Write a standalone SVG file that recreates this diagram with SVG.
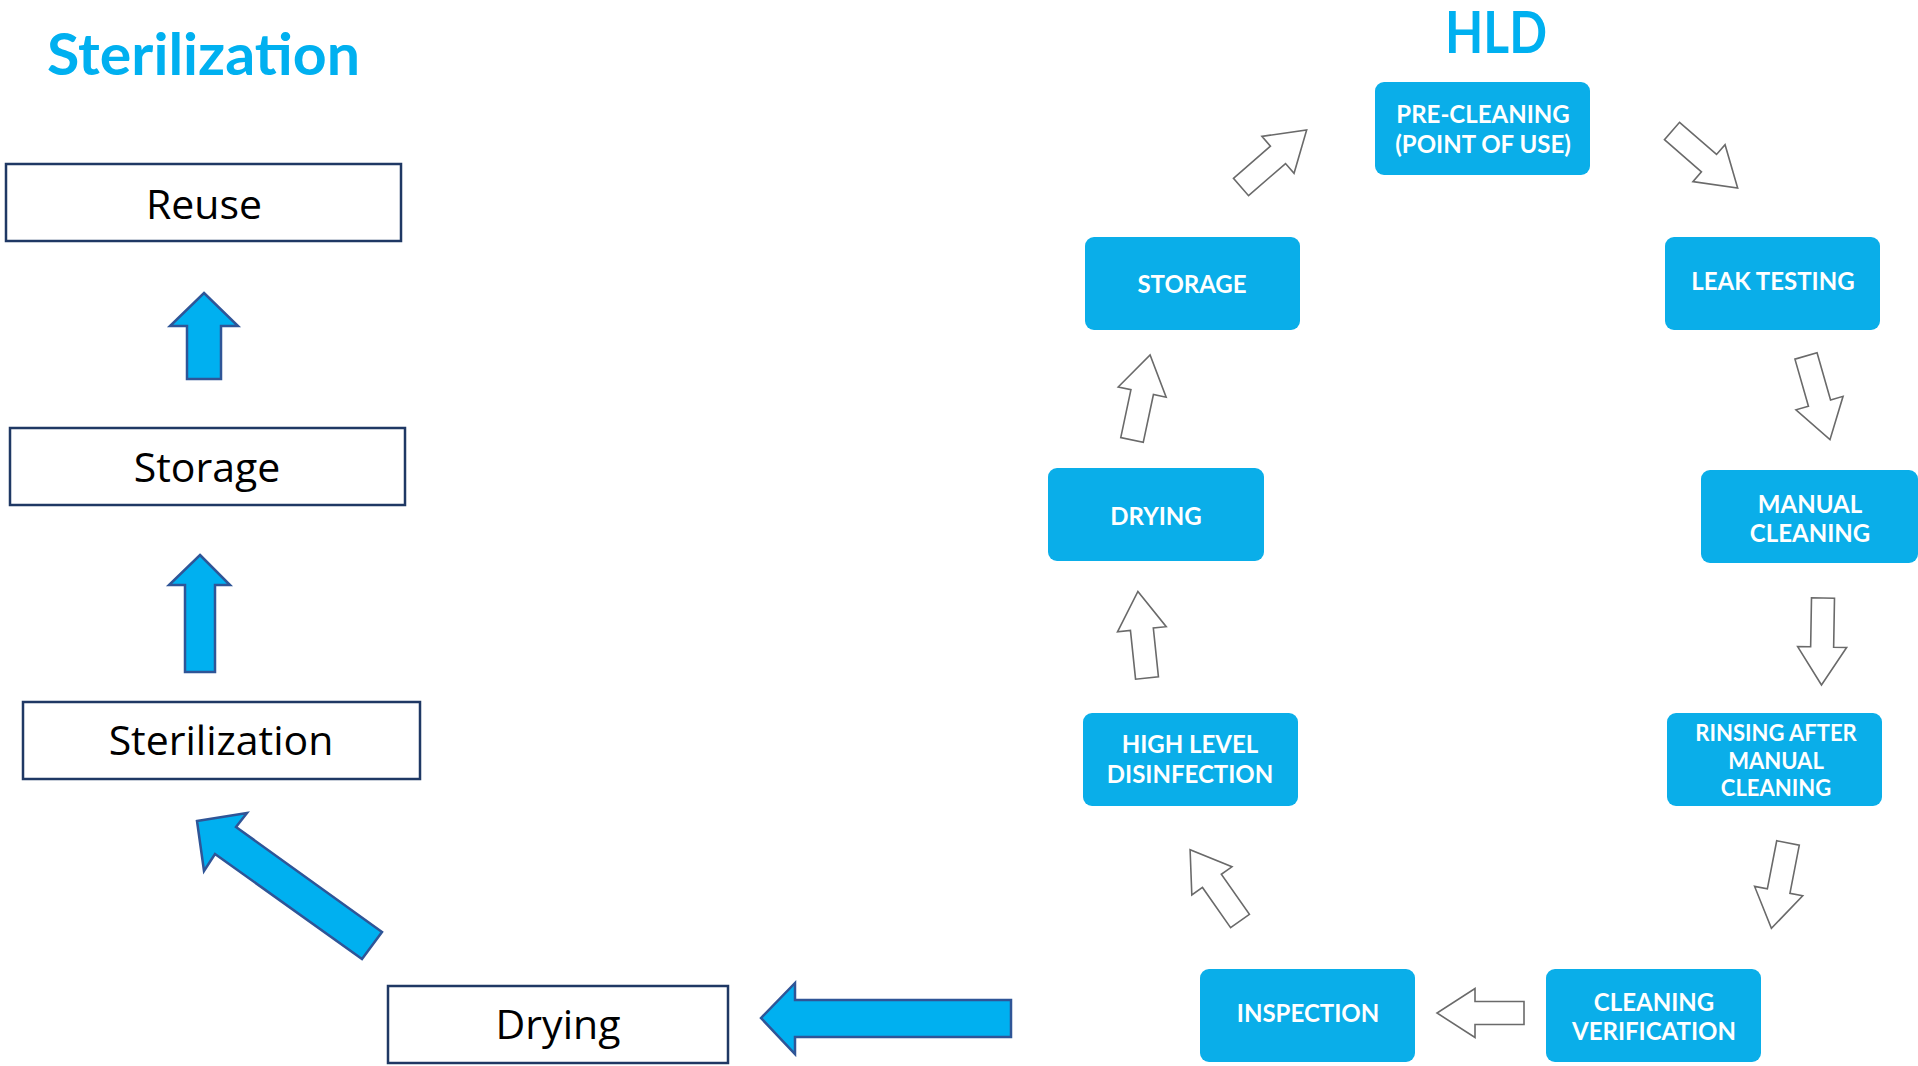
<svg xmlns="http://www.w3.org/2000/svg" xmlns:xlink="http://www.w3.org/1999/xlink" width="1918" height="1066" viewBox="0 0 1918 1066">
<style>
.title{font-family:Lato,"Open Sans","Liberation Sans",sans-serif;font-weight:700;font-size:57px;fill:#00B0F0}
.lbox{fill:#ffffff;stroke:#1F3864;stroke-width:2.5}
.ltxt{font-family:"Open Sans","Liberation Sans",sans-serif;font-size:41px;fill:#000000;text-anchor:middle}
.barrow{fill:#00B0F0;stroke:#2F5597;stroke-width:2.5;stroke-linejoin:miter}
.bbox{fill:#0AAEE9}
.btxt{font-family:Lato,"Open Sans","Liberation Sans",sans-serif;font-weight:700;font-size:24px;fill:#ffffff;text-anchor:middle}
</style>
<defs>
<path id="ha" d="M0,-11.5 H49 V-24.5 L87,0 L49,24.5 V11.5 H0 Z" fill="#ffffff" stroke="#6a6a6a" stroke-width="1.6" stroke-linejoin="miter"/>
</defs>
<rect width="1918" height="1066" fill="#ffffff"/>

<text class="title" x="47" y="75" textLength="313" lengthAdjust="spacingAndGlyphs">Sterilization</text>
<text class="title" x="1445" y="53" textLength="102" lengthAdjust="spacingAndGlyphs">HLD</text>

<g id="reuse"><rect class="lbox" x="6" y="164" width="395" height="77"/><text class="ltxt" x="204" y="219">Reuse</text></g>
<g id="storage-l"><rect class="lbox" x="10" y="428" width="395" height="77"/><text class="ltxt" x="207" y="482">Storage</text></g>
<g id="sterilization-l"><rect class="lbox" x="23" y="702" width="397" height="77"/><text class="ltxt" x="221" y="755">Sterilization</text></g>
<g id="drying-l"><rect class="lbox" x="388" y="986" width="340" height="77"/><text class="ltxt" x="558" y="1039">Drying</text></g>

<g id="pre-cleaning"><rect class="bbox" x="1375" y="82" width="215" height="93" rx="9"/><text class="btxt" x="1483" y="123" font-size="25">PRE-CLEANING</text><text class="btxt" x="1483" y="153" font-size="25">(POINT OF USE)</text></g>
<g id="leak-testing"><rect class="bbox" x="1665" y="237" width="215" height="93" rx="9"/><text class="btxt" x="1773" y="290">LEAK TESTING</text></g>
<g id="manual-cleaning"><rect class="bbox" x="1701" y="470" width="217" height="93" rx="9"/><text class="btxt" x="1810" y="513">MANUAL</text><text class="btxt" x="1810" y="542">CLEANING</text></g>
<g id="rinsing"><rect class="bbox" x="1667" y="713" width="215" height="93" rx="9"/><text class="btxt" x="1776" y="741" style="font-size:22px">RINSING AFTER</text><text class="btxt" x="1776" y="769" style="font-size:22px">MANUAL</text><text class="btxt" x="1776" y="796" style="font-size:22px">CLEANING</text></g>
<g id="cleaning-verification"><rect class="bbox" x="1546" y="969" width="215" height="93" rx="9"/><text class="btxt" x="1654" y="1011">CLEANING</text><text class="btxt" x="1654" y="1040">VERIFICATION</text></g>
<g id="inspection"><rect class="bbox" x="1200" y="969" width="215" height="93" rx="9"/><text class="btxt" x="1308" y="1022">INSPECTION</text></g>
<g id="hld"><rect class="bbox" x="1083" y="713" width="215" height="93" rx="9"/><text class="btxt" x="1190" y="753">HIGH LEVEL</text><text class="btxt" x="1190" y="783">DISINFECTION</text></g>
<g id="drying-r"><rect class="bbox" x="1048" y="468" width="216" height="93" rx="9"/><text class="btxt" x="1156" y="525">DRYING</text></g>
<g id="storage-r"><rect class="bbox" x="1085" y="237" width="215" height="93" rx="9"/><text class="btxt" x="1192" y="293">STORAGE</text></g>

<g id="connectors">
<polygon class="barrow" points="204,293 238,326 221,326 221,379 187,379 187,326 170,326"/>
<polygon class="barrow" points="200,555 230,585 215,585 215,672 185,672 185,585 169,585"/>
<polygon class="barrow" points="197,821 247,813 236,827 382,932 362,959 215,854 204,871"/>
<polygon class="barrow" points="761,1018 795,983 795,1000 1011,1000 1011,1037 795,1037 795,1054"/>
<use xlink:href="#ha" transform="translate(1241,187) rotate(-41)"/>
<use xlink:href="#ha" transform="translate(1672,131) rotate(41)"/>
<use xlink:href="#ha" transform="translate(1806,356) rotate(74)"/>
<use xlink:href="#ha" transform="translate(1823,598) rotate(91)"/>
<use xlink:href="#ha" transform="translate(1788,843) rotate(101)"/>
<use xlink:href="#ha" transform="translate(1524,1013) rotate(180)"/>
<use xlink:href="#ha" transform="translate(1240,921) rotate(-125)"/>
<use xlink:href="#ha" transform="translate(1147,678) rotate(-96)"/>
<use xlink:href="#ha" transform="translate(1132,440) rotate(-78)"/>
</g>
</svg>
